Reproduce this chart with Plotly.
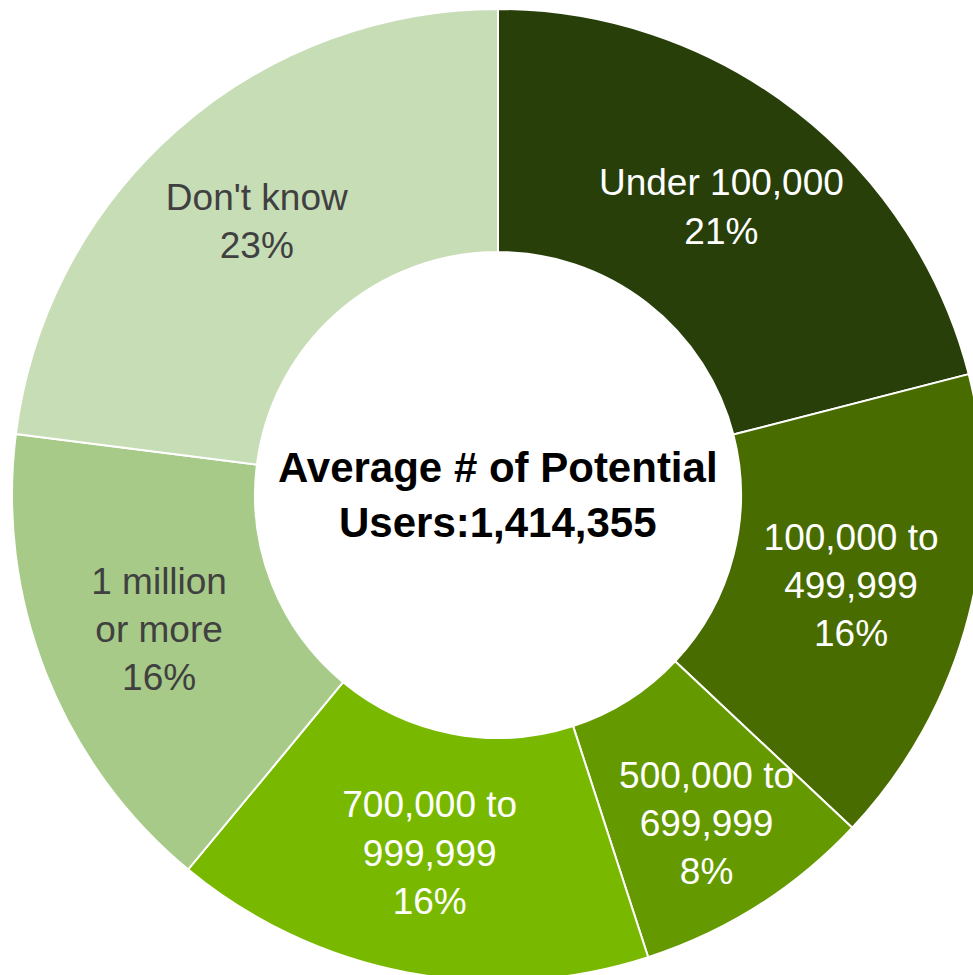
import plotly.graph_objects as go

# Survey shares by number of potential users
categories = ["Under 100,000", "100,000 to 499,999", "500,000 to 699,999",
              "700,000 to 999,999", "1 million or more", "Don't know"]
display_labels = ["Under 100,000", "100,000 to<br>499,999", "500,000 to<br>699,999",
                  "700,000 to<br>999,999", "1 million<br>or more", "Don't know"]
shares = [21, 16, 8, 16, 16, 23]
center_lines = ["Average # of Potential", "Users:1,414,355"]

slice_colors = ["#283F0A", "#496C00", "#649A00", "#78B900", "#A7CA88", "#C6DDB6"]
text_colors = ["#FFFFFF", "#FFFFFF", "#FFFFFF", "#FFFFFF", "#404040", "#404040"]

LABEL_SIZE = 37

fig = go.Figure(
    go.Pie(
        labels=categories,
        values=shares,
        text=display_labels,
        texttemplate="%{text}<br>%{value}%",
        textposition="inside",
        insidetextorientation="horizontal",
        insidetextfont=dict(family="Liberation Sans, Arial, sans-serif", size=LABEL_SIZE,
                            color=text_colors),
        hole=0.5,
        sort=False,
        direction="clockwise",
        rotation=0,
        marker=dict(colors=slice_colors, line=dict(color="#FFFFFF", width=2)),
        showlegend=False,
        hoverinfo="label+percent",
    )
)

fig.add_annotation(
    x=0.5, y=0.5, xref="paper", yref="paper",
    text="<b>" + "<br>".join(center_lines) + "</b>",
    showarrow=False,
    font=dict(family="Liberation Sans, Arial, sans-serif", size=42, color="#000000"),
)

fig.update_layout(
    width=984,
    height=981,
    margin=dict(l=12, t=9, r=0, b=0),
    paper_bgcolor="#FFFFFF",
    plot_bgcolor="#FFFFFF",
    uniformtext=dict(minsize=LABEL_SIZE, mode="show"),
)

# The ring runs slightly past the right and bottom edges of the page.
fig.write_html(
    "out.html",
    post_script="document.documentElement.style.overflow='hidden';"
                "document.body.style.overflow='hidden';"
                "document.body.style.margin='0';",
)
